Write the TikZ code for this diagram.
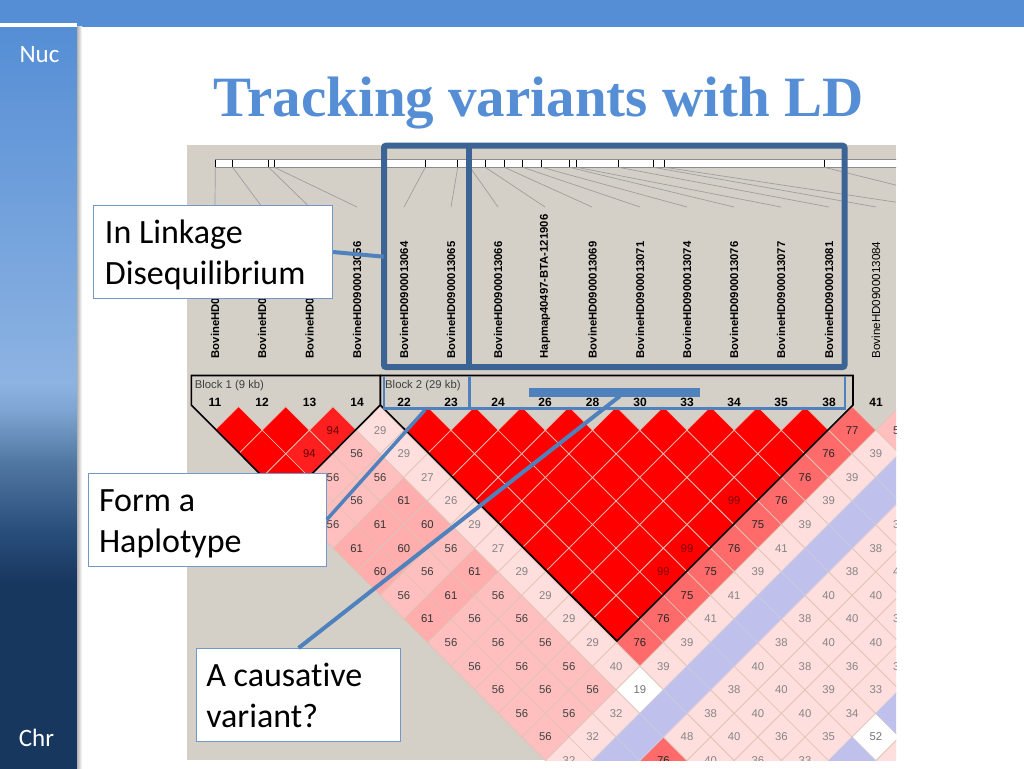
\documentclass[tikz,border=0pt]{standalone}
\usepackage{fontspec}
\setmainfont[Ligatures=NoCommon]{Carlito}
\newfontfamily\titlefont{Liberation Serif}
\newfontfamily\plotfont{Liberation Sans}
\usetikzlibrary{shapes.geometric}

\definecolor{slideblue}{HTML}{558ED5}
\definecolor{linkblue}{HTML}{4F81BD}
\definecolor{framedark}{HTML}{3B6494}
\definecolor{boxedge}{HTML}{7397C8}
\definecolor{plotgrey}{HTML}{D4D0C8}
\definecolor{cellline}{HTML}{E0C4B4}
\definecolor{sideA}{HTML}{17375E}
\definecolor{sideB}{HTML}{2A4E7C}
\definecolor{sideC}{HTML}{4F76A0}
\definecolor{sideD}{HTML}{7FA5D4}
\definecolor{sideE}{HTML}{8DB3E2}

\pgfdeclareverticalshading{sidebar}{100bp}{
  color(0bp)=(sideA);
  color(37.5bp)=(sideA);
  color(41bp)=(sideB);
  color(45.5bp)=(sideC);
  color(49.2bp)=(sideD);
  color(51bp)=(sideE);
  color(75bp)=(slideblue);
  color(100bp)=(slideblue)}

\tikzset{
  ldcell/.style={diamond,aspect=1,minimum width=47.2pt,minimum height=47.2pt,inner sep=0pt,outer sep=0pt,
    draw=cellline,line width=0.7pt,font=\plotfont\fontsize{11.3}{12}\selectfont},
  cellred/.style={ldcell,fill=red,text=red!50!black},
  cellblock/.style={ldcell,fill=red!88!white,text=red!40!black},
  cellhi/.style={ldcell,fill=red!58!white,text=black!85},
  cellmid/.style={ldcell,fill=red!32!white,text=black!80},
  celllow/.style={ldcell,fill=red!25!white,text=black!75},
  cellpale/.style={ldcell,fill=red!13!white,text=black!48},
  cellwhite/.style={ldcell,fill=white,text=black!55},
  cellband/.style={ldcell,fill={rgb,255:red,192;green,192;blue,236},draw={rgb,255:red,205;green,203;blue,226}},
  snpname/.style={rotate=90,anchor=west,inner sep=0pt,font=\plotfont\bfseries\fontsize{11.3}{12}\selectfont},
  snpnum/.style={inner sep=0pt,font=\plotfont\bfseries\fontsize{12}{12}\selectfont},
  blockname/.style={anchor=west,inner sep=0pt,text=black!75,font=\plotfont\fontsize{11.3}{12}\selectfont},
  callout/.style={draw=boxedge,fill=white,line width=1pt,inner xsep=11pt,inner ysep=0pt,minimum height=93pt,
    align=left,font=\fontsize{34}{41}\selectfont,
    execute at begin node={\spaceskip=7.7pt\rule{0pt}{32.5pt}},execute at end node={\rule[-8.5pt]{0pt}{1pt}}},
  linker/.style={draw=linkblue,line width=4pt},
  sidelabel/.style={text=white,inner sep=0pt,font=\fontsize{25}{28}\selectfont}
}

% cell i,j sits between marker i and marker j
\newcommand{\ldcells}[2]{%
  \foreach \i/\j/\v in {#2} {
    \node[#1] (c\i-\j) at ({215+23.6*(\i+\j)},{406.6+23.6*(\j-\i)}) {\v};
  }}

\begin{document}
\begin{tikzpicture}[x=1pt,y=-1pt]
\useasboundingbox (0,0) rectangle (1024,768);
\fill[white] (0,0) rectangle (1024,768);

% slide background
\fill[slideblue] (0,0) rectangle (1024,27);
\shade[shading=sidebar] (0,27) rectangle (77,768);
\fill[white] (0,23.5) rectangle (77,27);
\shade[left color=black!30,right color=white] (77,27) rectangle (82,768);
\node[sidelabel] (nuc) at (39.5,55) {Nuc};
\node[sidelabel] (chr) at (36.5,738) {Chr};
\node[text=slideblue,inner sep=0pt,font=\titlefont\bfseries\fontsize{57}{64}\selectfont] (title) at (538.5,103.5) {Tracking variants with LD};

% the plot
\begin{scope}
\clip (187,145) rectangle (896,760);
\fill[plotgrey] (187,145) rectangle (896,760);

% marker ruler
\draw[fill=white,draw=black!45,line width=0.8pt] (215.3,159.5) rectangle (920,167.3);
\foreach \t in {215.3,232.7,268.7,274.3,425.3,457.7,470,485.3,504.3,522.7,541.7,569.3,576.7,618.3,653.3,664.7,824.3}
  \draw[black,line width=0.8pt] (\t,159.5) -- (\t,167.3);
\foreach \t/\e in {215.3/215,232.7/262,268.7/309.5,274.3/357,425.3/404,457.7/451,470/498,485.3/545,504.3/592,522.7/640,541.7/687,569.3/734,576.7/781,618.3/829,653.3/876,664.7/928,824.3/984}
  \draw[black!38,line width=0.7pt] (\t,167.3) -- (\e,207);

% marker names
\node[snpname] (n11) at (215,358.5) {BovineHD0};
\node[snpname] (n12) at (262,358.5) {BovineHD0};
\node[snpname] (n13) at (309.5,358.5) {BovineHD0};
\node[snpname] (n14) at (357,358.5) {BovineHD0900013056};
\node[snpname] (n22) at (404,358.5) {BovineHD0900013064};
\node[snpname] (n23) at (451,358.5) {BovineHD0900013065};
\node[snpname] (n24) at (498,358.5) {BovineHD0900013066};
\node[snpname] (n26) at (545,358.5) {Hapmap40497-BTA-121906};
\node[snpname] (n28) at (592.5,358.5) {BovineHD0900013069};
\node[snpname] (n30) at (640,358.5) {BovineHD0900013071};
\node[snpname] (n33) at (687,358.5) {BovineHD0900013074};
\node[snpname] (n34) at (734,358.5) {BovineHD0900013076};
\node[snpname] (n35) at (781,358.5) {BovineHD0900013077};
\node[snpname] (n38) at (829,358.5) {BovineHD0900013081};
\node[snpname,font=\plotfont\fontsize{11.6}{12}\selectfont] (n41) at (876,358.5) {BovineHD0900013084};

% marker numbers
\foreach \x/\n in {215/11,262/12,309.5/13,357/14,404/22,451/23,498/24,545/26,592.5/28,640/30,687/33,734/34,781/35,829/38,876/41}
  \node[snpnum] (m\n) at (\x,402.7) {\n};
\node[blockname] (block1) at (194.7,386) {Block 1 (9 kb)};
\node[blockname] (block2) at (385,386) {Block 2 (29 kb)};

% the matrix
\ldcells{cellred}{0/1/,1/2/,0/2/,0/3/}
\ldcells{cellblock}{2/3/94,1/3/94}
\foreach \a in {4,...,12} {
  \pgfmathtruncatemacro{\first}{\a+1}
  \foreach \b in {\first,...,13} {
    \node[cellred] (c\a-\b) at ({215+23.6*(\a+\b)},{406.6+23.6*(\b-\a)}) {};
  }
}
\ldcells{cellred}{9/13/99,7/13/99,6/13/99}
\ldcells{cellhi}{13/14/77,12/14/76,11/14/76,10/14/76,9/14/75,8/14/76,7/14/75,6/14/75,5/14/76,4/14/76,2/17/76}
\ldcells{cellmid}{2/6/61,1/6/61,0/6/61,2/7/60,1/7/60,0/7/60,2/9/61,1/9/61,0/9/61}
\ldcells{celllow}{0/4/,1/4/56,2/4/56,1/5/56,2/5/56,0/5/56,0/8/56,1/8/56,2/8/56,0/10/56,1/10/56,2/10/56,0/11/56,1/11/56,2/11/56,0/12/56,1/12/56,2/12/56,0/13/56,1/13/56,2/13/56,0/14/56,1/14/56,2/14/56,14/15/56}
\ldcells{cellpale}{3/4/29,3/5/29,3/6/27,3/7/26,3/8/29,3/9/27,3/10/29,3/11/29,3/12/29,3/13/29,3/14/40}
\ldcells{cellpale}{0/15/32,1/15/32,2/15/32,4/15/39,5/15/39,6/15/41,7/15/41,8/15/39,9/15/41,10/15/39,11/15/39,12/15/39,13/15/39}
\ldcells{cellpale}{3/17/48,4/17/38,5/17/38,6/17/40,7/17/38,8/17/38,9/17/40,10/17/38,11/17/38,12/17/38}
\ldcells{cellpale}{3/18/40,4/18/40,5/18/40,6/18/40,7/18/38,8/18/40,9/18/40,10/18/40,11/18/40}
\ldcells{cellpale}{4/19/36,5/19/36,6/19/40,7/19/39,8/19/36,9/19/40,10/19/38}
\ldcells{cellpale}{5/20/33,6/20/35,7/20/34,8/20/33,9/20/33}
\ldcells{cellpale}{7/22/}
\ldcells{cellwhite}{3/15/19,7/21/52}
\ldcells{cellband}{1/16/,2/16/,3/16/,4/16/,5/16/,6/16/,7/16/,8/16/,9/16/,10/16/,11/16/,12/16/,13/16/,6/21/,8/21/}

% block outlines
\draw[black,line width=1.6pt] (191.3,405) -- (191.3,375.5) -- (380.3,375.5) -- (380.3,405) -- (286,500) -- cycle;
\draw[black,line width=1.6pt] (380.3,405) -- (380.3,375.5) -- (853,375.5) -- (853,405) -- (617,641) -- cycle;
\end{scope}

% annotations on the plot
\draw[linkblue,line width=2.5pt] (384,376) -- (384,408.3) -- (845,408.3) -- (845,376);
\draw[linkblue,line width=2.5pt] (469.3,376) -- (469.3,408.3);
\fill[linkblue] (529,388) rectangle (700,396.7);
\draw[framedark,line width=6pt,rounded corners=2pt] (384,145.7) rectangle (844.5,367);
\draw[framedark,line width=6pt] (469,145.7) -- (469,367);

\node[callout,text width=216.7pt] (ldbox) at (213.3,252) {In Linkage\\Disequilibrium};
\node[callout,text width=216.3pt] (hapbox) at (207.2,519.5) {Form a\\Haplotype};
\node[callout,inner xsep=10pt,text width=184.7pt] (varbox) at (298.6,695) {A causative\\variant?};

\coordinate (ldend) at (383.7,256.7);
\coordinate (hapend) at (425,410);
\coordinate (varend) at (620,396);
\draw[linker] (ldbox.east) -- (ldend);
\draw[linker,line width=3.5pt] (hapbox.east) -- (hapend);
\draw[linker] (varbox.north) -- (varend);
\end{tikzpicture}
\end{document}
